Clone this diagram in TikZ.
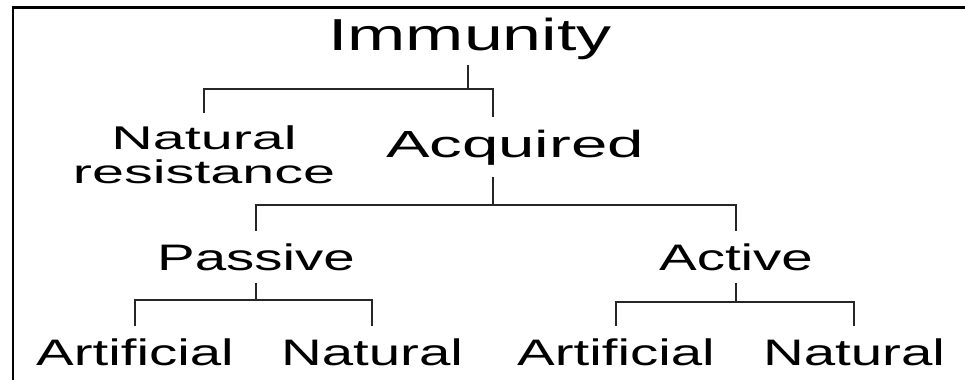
\documentclass[tikz,border=0pt]{standalone}
\usepackage{fontspec}
\setmainfont{Liberation Sans}
\usetikzlibrary{positioning}
\tikzset{
	lbl/.style={inner sep=0pt, outer ysep=7pt, anchor=base, xscale=1.53, font=\fontsize{21}{21}\selectfont},
	link/.style={line width=0.9pt, black!85},
	frame/.style={line width=1.6pt}
}
\begin{document}
\begin{tikzpicture}[x=0.02cm, y=-0.02cm]
		\useasboundingbox (0,0) rectangle (965,380);
		\draw[frame] (13,380) |- (965,7.5);
		% Labels
		\node[lbl, outer ysep=3pt, xscale=1.56/1.53, font=\fontsize{25.5}{25.5}\selectfont] (imm) at (470,50) {Immunity};
		\node[lbl, anchor=north, align=center, xscale=1.75/1.53, font=\fontsize{18.7}{19.8}\selectfont] (nat) at (204,113) {Natural\\resistance};
		\node[lbl, xscale=1.73/1.53, font=\fontsize{21.5}{21.5}\selectfont] (acq) at (515,157) {Acquired};
		\node[lbl] (pas) at (256,270) {Passive};
		\node[lbl] (act) at (736,270) {Active};
		\node[lbl] (art1) at (135,365) {Artificial};
		\node[lbl] (nat1) at (372,365) {Natural};
		\node[lbl] (art2) at (616,365) {Artificial};
		\node[lbl] (nat2) at (854,365) {Natural};
		% Branch points
		\coordinate (s1) at (468,89);
		\coordinate (a1) at (493,89);
		\coordinate (s2) at (493,205);
		\coordinate (s3) at (253,300);
		\coordinate (s4) at (737,302);
		% Tree
		\draw[link] (s1 |- imm.south) -- (s1);
		\draw[link] (nat.north) |- (a1) -- (a1 |- acq.north);
		\draw[link] (s2 |- acq.south) -- (s2);
		\draw[link] (pas.north) |- (act.north |- s2) -- (act.north);
		\draw[link] (pas.south) -- (pas.south |- s3);
		\draw[link] (art1.north) |- (nat1.north |- s3) -- (nat1.north);
		\draw[link] (act.south) -- (act.south |- s4);
		\draw[link] (art2.north) |- (nat2.north |- s4) -- (nat2.north);
	\end{tikzpicture}
\end{document}
